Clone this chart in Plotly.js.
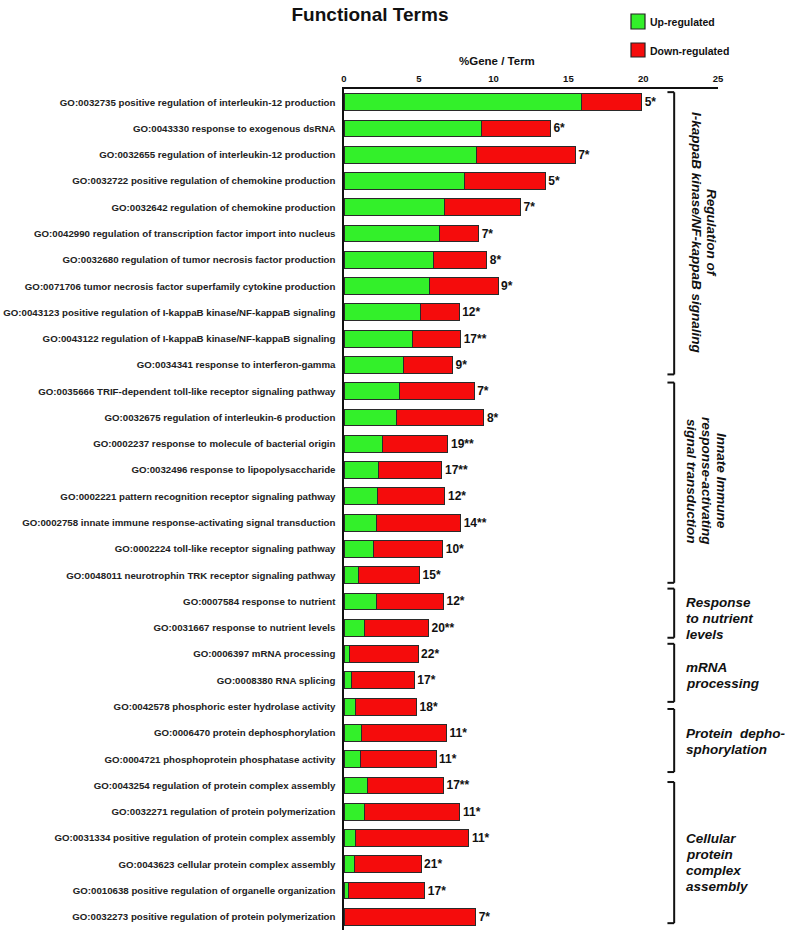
<!DOCTYPE html>
<html>
<head>
<meta charset="utf-8">
<script src="https://cdn.plot.ly/plotly-3.0.1.min.js"></script>
<style>html,body{margin:0;padding:0;background:#fff;}</style>
</head>
<body>
<div id="chart" style="width:785px;height:933px;"></div>
<script>
const terms = [
  "GO:0032735 positive regulation of interleukin-12 production",
  "GO:0043330 response to exogenous dsRNA",
  "GO:0032655 regulation of interleukin-12 production",
  "GO:0032722 positive regulation of chemokine production",
  "GO:0032642 regulation of chemokine production",
  "GO:0042990 regulation of transcription factor import into nucleus",
  "GO:0032680 regulation of tumor necrosis factor production",
  "GO:0071706 tumor necrosis factor superfamily cytokine production",
  "GO:0043123 positive regulation of I-kappaB kinase/NF-kappaB signaling",
  "GO:0043122 regulation of I-kappaB kinase/NF-kappaB signaling",
  "GO:0034341 response to interferon-gamma",
  "GO:0035666 TRIF-dependent toll-like receptor signaling pathway",
  "GO:0032675 regulation of interleukin-6 production",
  "GO:0002237 response to molecule of bacterial origin",
  "GO:0032496 response to lipopolysaccharide",
  "GO:0002221 pattern recognition receptor signaling pathway",
  "GO:0002758 innate immune response-activating signal transduction",
  "GO:0002224 toll-like receptor signaling pathway",
  "GO:0048011 neurotrophin TRK receptor signaling pathway",
  "GO:0007584 response to nutrient",
  "GO:0031667 response to nutrient levels",
  "GO:0006397 mRNA processing",
  "GO:0008380 RNA splicing",
  "GO:0042578 phosphoric ester hydrolase activity",
  "GO:0006470 protein dephosphorylation",
  "GO:0004721 phosphoprotein phosphatase activity",
  "GO:0043254 regulation of protein complex assembly",
  "GO:0032271 regulation of protein polymerization",
  "GO:0031334 positive regulation of protein complex assembly",
  "GO:0043623 cellular protein complex assembly",
  "GO:0010638 positive regulation of organelle organization",
  "GO:0032273 positive regulation of protein polymerization"
];

const upRegulated = [15.9, 9.2, 8.85, 8.05, 6.7, 6.4, 5.95, 5.7, 5.1, 4.6, 4.0,
  3.7, 3.5, 2.55, 2.3, 2.25, 2.2, 1.95, 1.0,
  2.2, 1.4, 0.4, 0.5, 0.8, 1.2, 1.1,
  1.55, 1.4, 0.75, 0.7, 0.3, 0];

const downRegulated = [4.0, 4.6, 6.6, 5.4, 5.1, 2.6, 3.6, 4.6, 2.6, 3.2, 3.25,
  5.0, 5.85, 4.4, 4.25, 4.5, 5.6, 4.65, 4.05,
  4.45, 4.25, 4.55, 4.2, 4.05, 5.65, 5.05,
  5.1, 6.35, 7.6, 4.45, 5.1, 8.8];

const geneCounts = ["5*", "6*", "7*", "5*", "7*", "7*", "8*", "9*", "12*", "17**", "9*",
  "7*", "8*", "19**", "17**", "12*", "14**", "10*", "15*",
  "12*", "20**", "22*", "17*", "18*", "11*", "11*",
  "17**", "11*", "11*", "21*", "17*", "7*"];

const xTickVals = [0, 5, 10, 15, 20, 25];

const groupLines = [
  ["Regulation of", "I-kappaB kinase/NF-kappaB signaling"],
  ["Innate Immune", "response-activating", "signal transduction"],
  ["Response", "to nutrient", "levels"],
  ["mRNA", "processing"],
  ["Protein\u00a0 depho-", "sphorylation"],
  ["Cellular", "protein", "complex", "assembly"]
];
// bracket extents in category-index units
const groupStart = [-0.38, 10.67, 18.51, 20.61, 23.09, 25.87];
const groupEnd   = [10.36, 18.29, 20.38, 22.82, 25.49, 31.24];

const W = 785, H = 933;
const L = 344, R = 67, T = 89, B = 3;
const px2paperX = p => (p - L) / (W - L - R);
const px2paperY = p => (H - B - p) / (H - T - B);

const FONT = "Liberation Sans, Arial, Helvetica, sans-serif";
const GREEN = "#33f02a";
const RED = "#f50c0c";

const traces = [
  {
    type: "bar", orientation: "h", name: "Up-regulated",
    y: terms, x: upRegulated,
    marker: {color: GREEN, line: {color: "#2a2a2a", width: 1}},
    showlegend: false, hoverinfo: "x+y"
  },
  {
    type: "bar", orientation: "h", name: "Down-regulated",
    y: terms, x: downRegulated,
    marker: {color: RED, line: {color: "#2a2a2a", width: 1}},
    text: geneCounts, textposition: "outside", cliponaxis: false,
    textfont: {family: FONT, size: 12, color: "#111", weight: "bold"},
    showlegend: false, hoverinfo: "x+y"
  }
];

const shapes = [];
const bx = 22.07, btick = 21.62;
for (let i = 0; i < groupStart.length; i++) {
  const s = groupStart[i], e = groupEnd[i];
  const ln = {color: "#111", width: 2};
  shapes.push({type: "line", xref: "x", yref: "y", x0: bx, x1: bx, y0: s, y1: e, line: ln});
  shapes.push({type: "line", xref: "x", yref: "y", x0: btick, x1: bx, y0: s, y1: s, line: ln});
  shapes.push({type: "line", xref: "x", yref: "y", x0: btick, x1: bx, y0: e, y1: e, line: ln});
}
// legend boxes
shapes.push({type: "rect", xref: "paper", yref: "paper",
  x0: px2paperX(631), x1: px2paperX(645), y0: px2paperY(29), y1: px2paperY(14),
  fillcolor: GREEN, line: {color: "#222", width: 1.2}});
shapes.push({type: "rect", xref: "paper", yref: "paper",
  x0: px2paperX(631), x1: px2paperX(645), y0: px2paperY(57), y1: px2paperY(43),
  fillcolor: RED, line: {color: "#222", width: 1.2}});

const gFont = {family: FONT, size: 13.5, color: "#111", weight: "bold", style: "italic"};
const annotations = [
  {xref: "paper", yref: "paper", x: px2paperX(648), y: px2paperY(22), xanchor: "left", yanchor: "middle",
   text: "Up-regulated", showarrow: false, font: {family: FONT, size: 10.5, color: "#111", weight: "bold"}},
  {xref: "paper", yref: "paper", x: px2paperX(648), y: px2paperY(51), xanchor: "left", yanchor: "middle",
   text: "Down-regulated", showarrow: false, font: {family: FONT, size: 10.5, color: "#111", weight: "bold"}},
  {xref: "paper", yref: "paper", x: px2paperX(497), y: px2paperY(61), xanchor: "center", yanchor: "middle",
   text: "%Gene / Term", showarrow: false, font: {family: FONT, size: 11.5, color: "#111", weight: "bold"}}
];

// rotated group labels (one annotation per line)
const rotSpec = [
  {g: 0, xs: [711, 696], y: 233},
  {g: 1, xs: [721, 706, 691], y: 481}
];
rotSpec.forEach(r => {
  groupLines[r.g].forEach((t, k) => {
    annotations.push({xref: "paper", yref: "paper", x: px2paperX(r.xs[k]), y: px2paperY(r.y),
      xanchor: "center", yanchor: "middle", text: t, textangle: 90, showarrow: false, font: gFont});
  });
});
// horizontal group labels
const horSpec = [
  {g: 2, y0: 602}, {g: 3, y0: 667}, {g: 4, y0: 733}, {g: 5, y0: 838}
];
horSpec.forEach(h => {
  groupLines[h.g].forEach((t, k) => {
    annotations.push({xref: "paper", yref: "paper", x: px2paperX(684), y: px2paperY(h.y0 + k * 16),
      xanchor: "left", yanchor: "middle", text: t, showarrow: false, font: gFont});
  });
});

const layout = {
  width: W, height: H,
  margin: {l: L, r: R, t: T, b: B, pad: 0},
  paper_bgcolor: "#fff", plot_bgcolor: "#fff",
  barmode: "stack", bargap: 0.36,
  font: {family: FONT, color: "#111"},
  title: {text: "Functional Terms", x: 370 / W, xanchor: "center", y: 1 - 14 / H, yanchor: "middle",
          font: {family: FONT, size: 19, color: "#111", weight: "bold"}},
  xaxis: {side: "top", range: [0, 25], tickmode: "array", tickvals: xTickVals,
          showgrid: false, zeroline: false, showline: true, linecolor: "#111", linewidth: 1.6,
          ticks: "", ticklabelstandoff: 2,
          tickfont: {family: FONT, size: 9.5, color: "#111", weight: "bold"}, fixedrange: true},
  yaxis: {type: "category", autorange: "reversed", showgrid: false, zeroline: false,
          showline: true, linecolor: "#111", linewidth: 1.6, ticks: "", ticklabelstandoff: 5,
          tickfont: {family: FONT, size: 9.7, color: "#222", weight: "bold"}, fixedrange: true},
  shapes: shapes,
  annotations: annotations,
  showlegend: false
};

Plotly.newPlot("chart", traces, layout, {displayModeBar: false, staticPlot: true});
</script>
</body>
</html>
